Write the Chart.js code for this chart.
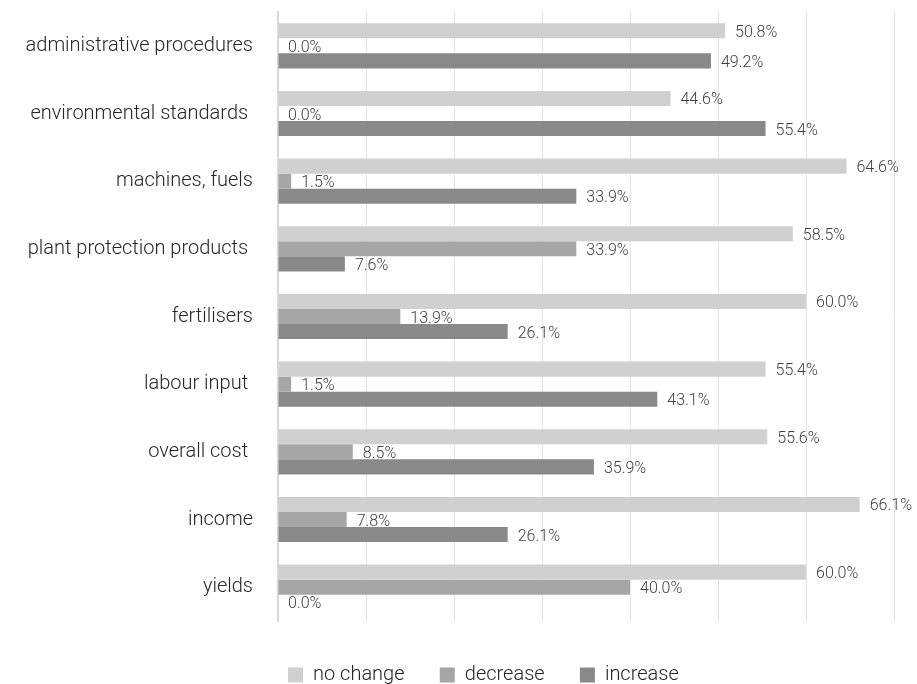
<!DOCTYPE html>
<html>
<head>
<meta charset="utf-8">
<script src="https://cdn.jsdelivr.net/npm/chart.js@4.4.1/dist/chart.umd.min.js"></script>
<style>
  html, body { margin: 0; padding: 0; background: #ffffff; }
  #wrap { width: 917px; height: 684px; position: relative; }
</style>
</head>
<body>
<div id="wrap"><canvas id="c" width="917" height="684"></canvas></div>
<script>
const categories = [
  "administrative procedures",
  "environmental standards ",
  "machines, fuels",
  "plant protection products ",
  "fertilisers",
  "labour input ",
  "overall cost ",
  "income",
  "yields"
];
const seriesNames = ["no change", "decrease", "increase"];
const noChange = [50.8, 44.6, 64.6, 58.5, 60.0, 55.4, 55.6, 66.1, 60.0];
const decrease = [0.0, 0.0, 1.5, 33.9, 13.9, 1.5, 8.5, 7.8, 40.0];
const increase = [49.2, 55.4, 33.9, 7.6, 26.1, 43.1, 35.9, 26.1, 0.0];
const colors = ["#d0d0d0", "#a6a6a6", "#898989"];

const FONT = "Roboto, 'Noto Sans', sans-serif";
const LEGEND_START_X = 288;

const valueLabels = {
  id: 'valueLabels',
  afterDatasetsDraw(chart) {
    const ctx = chart.ctx;
    ctx.save();
    ctx.font = "300 16px " + FONT;
    ctx.fillStyle = "#404040";
    ctx.textAlign = "left";
    ctx.textBaseline = "middle";
    chart.data.datasets.forEach((ds, i) => {
      const meta = chart.getDatasetMeta(i);
      meta.data.forEach((bar, j) => {
        const v = ds.data[j];
        ctx.fillText(v.toFixed(1) + "%", bar.x + 10, bar.y + 2);
      });
    });
    ctx.restore();
  }
};

const legendShift = {
  id: 'legendShift',
  afterLayout(chart) {
    const lg = chart.legend;
    if (!lg || !lg.lineWidths) return;
    const pad = lg.options.labels.padding;
    const cur = (lg.left + pad + lg.right - lg.lineWidths[0]) / 2;
    const dx = LEGEND_START_X - cur;
    lg.left += dx;
    lg.right += dx;
  }
};

new Chart(document.getElementById('c'), {
  type: 'bar',
  data: {
    labels: categories,
    datasets: [
      { label: seriesNames[0], data: noChange, backgroundColor: colors[0] },
      { label: seriesNames[1], data: decrease, backgroundColor: colors[1] },
      { label: seriesNames[2], data: increase, backgroundColor: colors[2] }
    ]
  },
  options: {
    indexAxis: 'y',
    responsive: false,
    animation: false,
    devicePixelRatio: 1,
    layout: { padding: { top: 12, right: 23, left: 0, bottom: -11 } },
    datasets: { bar: { categoryPercentage: 0.667, barPercentage: 1.0 } },
    scales: {
      x: {
        min: 0, max: 70,
        ticks: { display: false, stepSize: 10 },
        grid: { color: "#e4e4e4", lineWidth: 1, drawTicks: false },
        border: { display: false },
        afterFit(scale) { scale.height = 38; scale.paddingLeft = 0; scale.paddingRight = 0; }
      },
      y: {
        ticks: { color: "#262626", font: { family: FONT, size: 20, weight: 300 }, padding: 25 },
        grid: { display: false, drawTicks: false },
        border: { display: true, color: "#d9d9d9", width: 2 },
        afterFit(scale) { scale.width = 278; scale.paddingTop = 0; scale.paddingBottom = 0; }
      }
    },
    plugins: {
      legend: {
        position: 'bottom',
        labels: {
          boxWidth: 15, boxHeight: 15, padding: 6,
          color: "#262626",
          font: { family: FONT, size: 20, weight: 300 },
          generateLabels(chart) {
            const items = Chart.defaults.plugins.legend.labels.generateLabels(chart);
            items.forEach((it, i) => {
              if (i < items.length - 1) it.text = it.text + "      ";
            });
            return items;
          }
        }
      },
      tooltip: { enabled: false }
    }
  },
  plugins: [valueLabels, legendShift]
});
</script>
</body>
</html>
